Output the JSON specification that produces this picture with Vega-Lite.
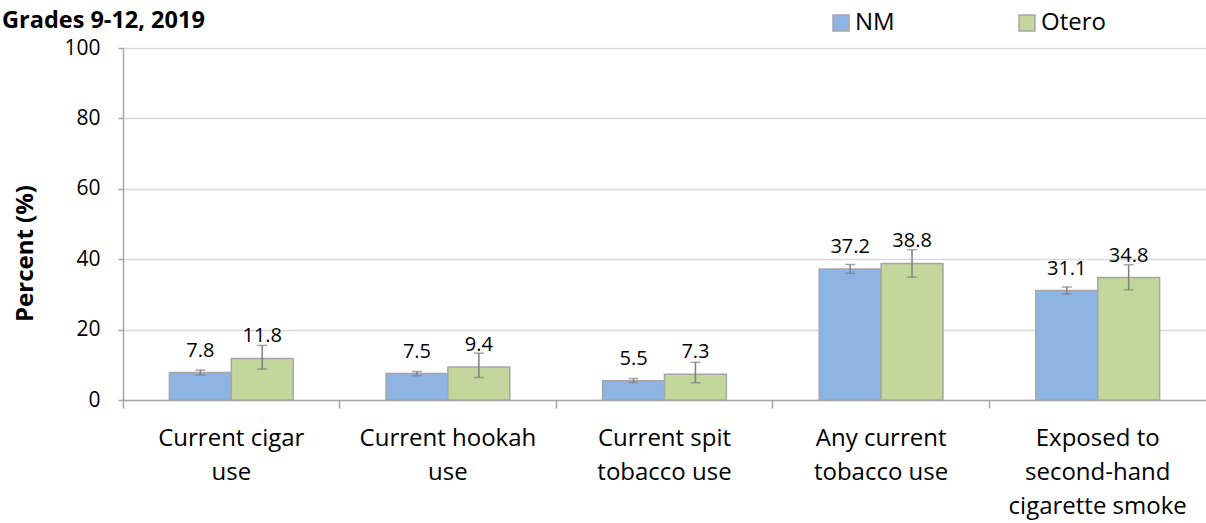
{
  "$schema": "https://vega.github.io/schema/vega-lite/v6.json",
  "autosize": "none",
  "width": 1083,
  "height": 352,
  "padding": {"left": 123, "top": 48, "right": 0, "bottom": 123},
  "background": "white",
  "config": {
    "font": "Open Sans",
    "view": {"stroke": null}
  },
  "title": {
    "text": "Grades 9-12, 2019",
    "anchor": "start",
    "frame": "group",
    "dx": -121,
    "offset": -21,
    "fontSize": 23.5,
    "fontWeight": "bold",
    "font": "Open Sans",
    "color": "#000000"
  },
  "data": {
    "values": [
      {"cat": "Current cigar|use", "group": "NM", "value": 7.8, "lo": 7.1, "hi": 8.5},
      {"cat": "Current cigar|use", "group": "Otero", "value": 11.8, "lo": 8.8, "hi": 15.5},
      {"cat": "Current hookah|use", "group": "NM", "value": 7.5, "lo": 6.9, "hi": 8.1},
      {"cat": "Current hookah|use", "group": "Otero", "value": 9.4, "lo": 6.4, "hi": 13.3},
      {"cat": "Current spit|tobacco use", "group": "NM", "value": 5.5, "lo": 5.0, "hi": 6.1},
      {"cat": "Current spit|tobacco use", "group": "Otero", "value": 7.3, "lo": 4.9, "hi": 10.7},
      {"cat": "Any current|tobacco use", "group": "NM", "value": 37.2, "lo": 36.0, "hi": 38.5},
      {"cat": "Any current|tobacco use", "group": "Otero", "value": 38.8, "lo": 34.9, "hi": 42.7},
      {"cat": "Exposed to|second-hand|cigarette smoke", "group": "NM", "value": 31.1, "lo": 30.1, "hi": 32.1},
      {"cat": "Exposed to|second-hand|cigarette smoke", "group": "Otero", "value": 34.8, "lo": 31.3, "hi": 38.4}
    ]
  },
  "encoding": {
    "x": {
      "field": "cat",
      "type": "nominal",
      "sort": null,
      "scale": {"paddingInner": 0, "paddingOuter": 0},
      "axis": {
        "title": null,
        "labelAngle": 0,
        "labelExpr": "split(datum.label, '|')",
        "labelFontSize": 24,
        "labelLimit": 400,
        "labelColor": "#000000",
        "labelLineHeight": 34,
        "labelPadding": 18,
        "labelBaseline": "top",
        "bandPosition": 0,
        "domainColor": "#A6A6A6",
        "domainWidth": 1.5,
        "tickColor": "#A6A6A6",
        "tickWidth": 1.5,
        "tickSize": 8,
        "grid": false
      }
    },
    "xOffset": {
      "field": "group",
      "type": "nominal",
      "scale": {"paddingOuter": 0.75, "paddingInner": 0}
    }
  },
  "layer": [
    {
      "mark": {"type": "bar", "stroke": "#A6A6A6", "strokeWidth": 1.5},
      "encoding": {
        "y": {
          "field": "value",
          "type": "quantitative",
          "scale": {"domain": [0, 100], "nice": false},
          "axis": {
            "values": [0, 20, 40, 60, 80, 100],
            "title": "Percent (%)",
            "titleFontSize": 24,
            "titleFontWeight": "bold",
            "titleColor": "#000000",
            "titleX": -98,
            "titleY": 205,
            "titleAngle": -90,
            "titleAlign": "center",
            "titleBaseline": "middle",
            "labelFontSize": 21,
            "labelColor": "#000000",
            "labelPadding": 18,
            "domainColor": "#A6A6A6",
            "domainWidth": 1.5,
            "tickColor": "#A6A6A6",
            "tickWidth": 1.5,
            "tickSize": 5,
            "gridColor": "#D9D9D9",
            "gridWidth": 1.5
          }
        },
        "color": {
          "field": "group",
          "type": "nominal",
          "scale": {"domain": ["NM", "Otero"], "range": ["#8EB4E3", "#C3D69B"]},
          "legend": {
            "title": null,
            "orient": "none",
            "legendX": 706,
            "legendY": -37,
            "direction": "horizontal",
            "symbolType": "square",
            "symbolSize": 256,
            "symbolStrokeColor": "#A6A6A6",
            "symbolStrokeWidth": 1.5,
            "labelFontSize": 24,
            "labelColor": "#000000",
            "labelOffset": 2,
            "columnPadding": 120
          }
        }
      }
    },
    {
      "mark": {"type": "rule", "color": "#7F7F7F", "strokeWidth": 1.5},
      "encoding": {
        "y": {"field": "lo", "type": "quantitative"},
        "y2": {"field": "hi"}
      }
    },
    {
      "mark": {"type": "tick", "color": "#7F7F7F", "thickness": 1.5, "size": 10},
      "encoding": {
        "y": {"field": "lo", "type": "quantitative"}
      }
    },
    {
      "mark": {"type": "tick", "color": "#7F7F7F", "thickness": 1.5, "size": 10},
      "encoding": {
        "y": {"field": "hi", "type": "quantitative"}
      }
    },
    {
      "mark": {"type": "text", "fontSize": 20, "color": "#000000", "baseline": "alphabetic", "dy": -16},
      "encoding": {
        "y": {"field": "value", "type": "quantitative"},
        "text": {"field": "value", "type": "quantitative", "format": ".1f"}
      }
    }
  ]
}
